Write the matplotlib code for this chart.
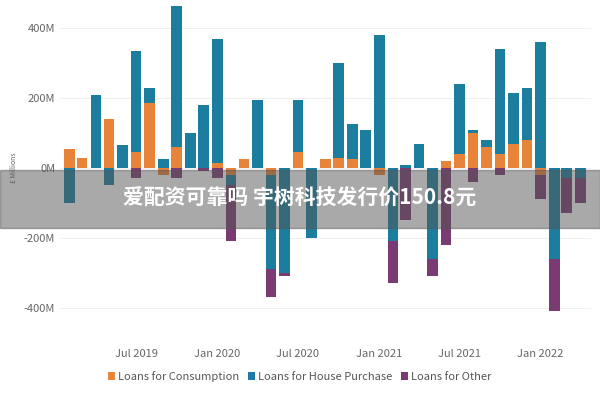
import numpy as np
import pandas as pd
import matplotlib
matplotlib.use("Agg")
import matplotlib.pyplot as plt
import matplotlib.dates as mdates

months = pd.date_range("2019-02-01", periods=39, freq="MS")
consumption = [55, 30, 0, 140, 0, 45, 185, -20, 60, 0, 0, 15, -20, 25, 0, -20, 0, 45, 0, 25,
               30, 25, 0, -20, 0, 0, 0, 0, 20, 40, 100, 60, 40, 70, 80, -20, 0, 0, 0]
house = [-100, 0, 210, -50, 65, 290, 45, 25, 405, 100, 180, 355, -30, 0, 195, -270, -300, 150, -200, 0,
         270, 100, 110, 380, -210, 10, 70, -260, 0, 200, 10, 20, 300, 145, 150, 360, -260, -30, -30]
other = [0, 0, 0, 0, 0, -30, 0, 0, -30, 0, -10, -30, -160, 0, 0, -80, -10, 0, 0, 0,
         0, 0, 0, 0, -120, -150, 0, -50, -220, 0, -40, 0, -20, 0, 0, -70, -150, -100, -70]
series = [("Loans for Consumption", consumption, "#E8833A"),
          ("Loans for House Purchase", house, "#1B7E9E"),
          ("Loans for Other", other, "#7A3B72")]

plt.rcParams['font.family'] = ['Noto Sans CJK SC', 'DejaVu Sans']
fig = plt.figure(figsize=(6, 4), dpi=100)
ax = fig.add_axes([0.1, 0.17, 0.885, 0.82])
pos = np.zeros(len(months)); neg = np.zeros(len(months))
for name, vals, col in series:
    v = np.array(vals, float)
    bottom = np.where(v >= 0, pos, neg)
    ax.bar(months, v, width=24, bottom=bottom, color=col, label=name)
    pos += np.where(v > 0, v, 0); neg += np.where(v < 0, v, 0)

ax.set_ylim(-470, 470)
ax.set_yticks([-400, -200, 0, 200, 400])
ax.set_yticklabels(["-400M", "-200M", "0M", "200M", "400M"], color="#666666", fontsize=8)
ax.set_ylabel("£ Millions", fontsize=5, color="#666666")
ax.xaxis.set_major_locator(mdates.MonthLocator(bymonth=[1, 7]))
ax.xaxis.set_major_formatter(mdates.DateFormatter("%b %Y"))
ax.tick_params(axis='x', labelsize=8, labelcolor="#666666", length=0, pad=12)
ax.tick_params(axis='y', length=0)
ax.set_xlim(pd.Timestamp("2019-01-10"), pd.Timestamp("2022-04-25"))
for s in ax.spines.values():
    s.set_visible(False)
ax.grid(axis='y', color="#eeeeee", lw=0.6)
ax.set_axisbelow(True)
fig.legend(loc="lower center", ncol=3, frameon=False, fontsize=8, handlelength=0.6,
           handletextpad=0.3, columnspacing=0.8, bbox_to_anchor=(0.5, 0.02), labelcolor="#555555")
fig.patches.append(plt.Rectangle((0, 0.43), 1, 0.145, transform=fig.transFigure,
                                 color="#555555", alpha=0.5, zorder=5))
fig.text(0.5, 0.505, "爱配资可靠吗 宇树科技发行价150.8元", ha="center", va="center",
         color="white", fontsize=15, fontweight="bold", zorder=6)
fig.savefig("out.png")
